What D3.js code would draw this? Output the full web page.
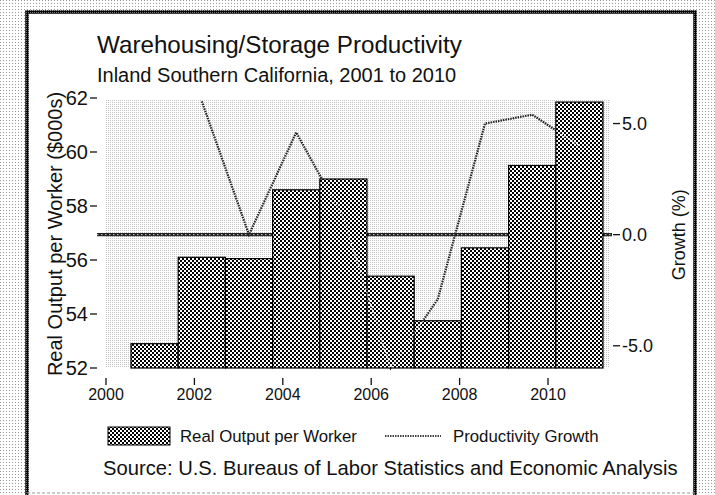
<!DOCTYPE html>
<html>
<head>
<meta charset="utf-8">
<script src="https://cdn.jsdelivr.net/npm/d3@7"></script>
<style>
  body { margin: 0; background: #fff; }
  text { font-family: "Liberation Sans", Arial, sans-serif; fill: #111; }
</style>
</head>
<body>
<div id="chart"></div>
<script>
// data
const years = [2001, 2002, 2003, 2004, 2005, 2006, 2007, 2008, 2009, 2010]
const output = [52.9, 56.1, 56.05, 58.6, 59.0, 55.4, 53.75, 56.45, 59.5, 61.85]
const growth = [null, 6.0, 0.0, 4.6, 0.75, -6.0, -2.9, 5.0, 5.4, 4.0]
const xTicks = [2000, 2002, 2004, 2006, 2008, 2010]
const leftTicks = [52, 54, 56, 58, 60, 62]
const rightTicks = [-5, 0, 5]

const width = 715
const height = 495

var svg = d3.select("#chart").append("svg")
  .attr("width", width)
  .attr("height", height)

// dithered looking fills
var defs = svg.append("defs")
var dots = defs.append("pattern").attr("id", "dots")
  .attr("width", 3).attr("height", 3).attr("patternUnits", "userSpaceOnUse")
dots.append("rect").attr("width", 3).attr("height", 3).attr("fill", "#fff")
dots.append("rect").attr("width", 1).attr("height", 1).attr("fill", "#9a9a9a")

var dots2 = defs.append("pattern").attr("id", "dots2")
  .attr("width", 2).attr("height", 2).attr("patternUnits", "userSpaceOnUse")
dots2.append("rect").attr("width", 2).attr("height", 2).attr("fill", "#fff")
dots2.append("rect").attr("width", 1).attr("height", 1).attr("fill", "#c4c4c4")

var checker = defs.append("pattern").attr("id", "checker")
  .attr("width", 4).attr("height", 4).attr("patternUnits", "userSpaceOnUse")
checker.append("rect").attr("width", 4).attr("height", 4).attr("fill", "#fff")
checker.append("rect").attr("width", 2).attr("height", 2).attr("fill", "#000")
checker.append("rect").attr("x", 2).attr("y", 2).attr("width", 2).attr("height", 2).attr("fill", "#000")

var borderPat = defs.append("pattern").attr("id", "borderPat")
  .attr("width", 2).attr("height", 2).attr("patternUnits", "userSpaceOnUse")
borderPat.append("rect").attr("width", 2).attr("height", 2).attr("fill", "#000")
borderPat.append("rect").attr("width", 1).attr("height", 1).attr("fill", "#777")

// page background + panel
svg.append("rect").attr("width", width).attr("height", height).attr("fill", "url(#dots)")
svg.append("rect")
  .attr("x", 27).attr("y", 12).attr("width", 668).attr("height", 492)
  .attr("fill", "#fff")
  .attr("stroke", "url(#borderPat)")
  .attr("stroke-width", 3.5)
svg.append("line")
  .attr("x1", 27).attr("x2", 695).attr("y1", 493).attr("y2", 493)
  .attr("stroke", "#999").attr("stroke-dasharray", "3,2")

// scales: bars/line sit on one scale, the year axis on another (as in the original)
var x = d3.scaleLinear().domain([2000, 2010]).range([107.4, 579.4])
var xAxis = d3.scaleLinear().domain([2000, 2010]).range([106, 548])
var yL = d3.scaleLinear().domain([52, 62]).range([368, 98])
var yR = d3.scaleLinear().domain([-6, 6.15]).range([368, 98])
var bw = x(2001) - x(2000)

// plot background
svg.append("rect")
  .attr("x", 106).attr("y", yL(62) + 2)
  .attr("width", 504).attr("height", yL(52) - yL(62) - 2)
  .attr("fill", "url(#dots2)")

// zero line of growth axis
svg.append("line")
  .attr("x1", 97).attr("x2", 612).attr("y1", yR(0)).attr("y2", yR(0))
  .attr("stroke", "#222").attr("stroke-width", 3.4)
svg.append("line")
  .attr("x1", 97).attr("x2", 612).attr("y1", yR(0)).attr("y2", yR(0))
  .attr("stroke", "#ccc").attr("stroke-width", 1).attr("stroke-dasharray", "1.5,2.5")

var lineData = years.map((d, i) => ({year: d, v: growth[i]})).filter(d => d.v !== null)
var line = d3.line().x(d => x(d.year)).y(d => yR(d.v))

// dark line over the light background
svg.append("path").datum(lineData)
  .attr("d", line).attr("fill", "none")
  .attr("stroke", "#222").attr("stroke-width", 2.2).attr("stroke-dasharray", "1.5,1")

// bars
var barData = years.map((d, i) => ({year: d, v: output[i]}))
svg.append("g").selectAll("rect").data(barData).enter().append("rect")
  .attr("x", d => x(d.year) - bw / 2)
  .attr("y", d => yL(d.v))
  .attr("width", bw)
  .attr("height", d => yL(52) - yL(d.v))
  .attr("fill", "url(#checker)")
  .attr("stroke", "#000").attr("stroke-width", 1.2)

// line shows faintly (light) across the bars
var clip = defs.append("clipPath").attr("id", "barclip")
clip.selectAll("rect").data(barData).enter().append("rect")
  .attr("x", d => x(d.year) - bw / 2)
  .attr("y", d => yL(d.v))
  .attr("width", bw)
  .attr("height", d => yL(52) - yL(d.v))
svg.append("path").datum(lineData)
  .attr("d", line).attr("fill", "none")
  .attr("clip-path", "url(#barclip)")
  .attr("stroke", "#e8e8e8").attr("stroke-width", 1.5).attr("stroke-dasharray", "1,2")

// left axis
var gl = svg.append("g")
gl.selectAll("line").data(leftTicks).enter().append("line")
  .attr("x1", 90).attr("x2", 97).attr("y1", d => yL(d)).attr("y2", d => yL(d))
  .attr("stroke", "#111").attr("stroke-width", 1.3)
gl.selectAll("text").data(leftTicks).enter().append("text")
  .attr("x", 88).attr("y", d => yL(d) + 7)
  .attr("text-anchor", "end").attr("font-size", 20)
  .text(d => d)

// right axis
var gr = svg.append("g")
gr.selectAll("line").data(rightTicks).enter().append("line")
  .attr("x1", 613).attr("x2", 620).attr("y1", d => yR(d)).attr("y2", d => yR(d))
  .attr("stroke", "#111").attr("stroke-width", 1.3)
gr.selectAll("text").data(rightTicks).enter().append("text")
  .attr("x", 622).attr("y", d => yR(d) + 6.5)
  .attr("font-size", 18)
  .text(d => d.toFixed(1))

// bottom axis
var gb = svg.append("g")
gb.selectAll("line").data(xTicks).enter().append("line")
  .attr("x1", d => xAxis(d)).attr("x2", d => xAxis(d)).attr("y1", 378).attr("y2", 385)
  .attr("stroke", "#111").attr("stroke-width", 1.3)
gb.selectAll("text").data(xTicks).enter().append("text")
  .attr("x", d => xAxis(d)).attr("y", 400)
  .attr("text-anchor", "middle").attr("font-size", 16)
  .text(d => d)

// axis titles
svg.append("text")
  .attr("transform", "translate(62," + (yL(57) + 1) + ") rotate(-90)")
  .attr("text-anchor", "middle").attr("font-size", 20)
  .text("Real Output per Worker ($000s)")
svg.append("text")
  .attr("transform", "translate(685," + yR(0) + ") rotate(-90)")
  .attr("text-anchor", "middle").attr("font-size", 18)
  .text("Growth (%)")

// titles
svg.append("text").attr("x", 97).attr("y", 53).attr("font-size", 24.2)
  .text("Warehousing/Storage Productivity")
svg.append("text").attr("x", 97).attr("y", 82).attr("font-size", 20)
  .text("Inland Southern California, 2001 to 2010")

// legend
svg.append("rect").attr("x", 108).attr("y", 427).attr("width", 62).attr("height", 18)
  .attr("fill", "url(#checker)").attr("stroke", "#000").attr("stroke-width", 1)
svg.append("text").attr("x", 180).attr("y", 442).attr("font-size", 16.8)
  .text("Real Output per Worker")
svg.append("line").attr("x1", 385).attr("x2", 441).attr("y1", 436).attr("y2", 436)
  .attr("stroke", "#444").attr("stroke-width", 2.2).attr("stroke-dasharray", "1.5,1")
svg.append("text").attr("x", 453).attr("y", 442).attr("font-size", 16.8)
  .text("Productivity Growth")

svg.append("text").attr("x", 103).attr("y", 475).attr("font-size", 20.2)
  .text("Source: U.S. Bureaus of Labor Statistics and Economic Analysis")
</script>
</body>
</html>
